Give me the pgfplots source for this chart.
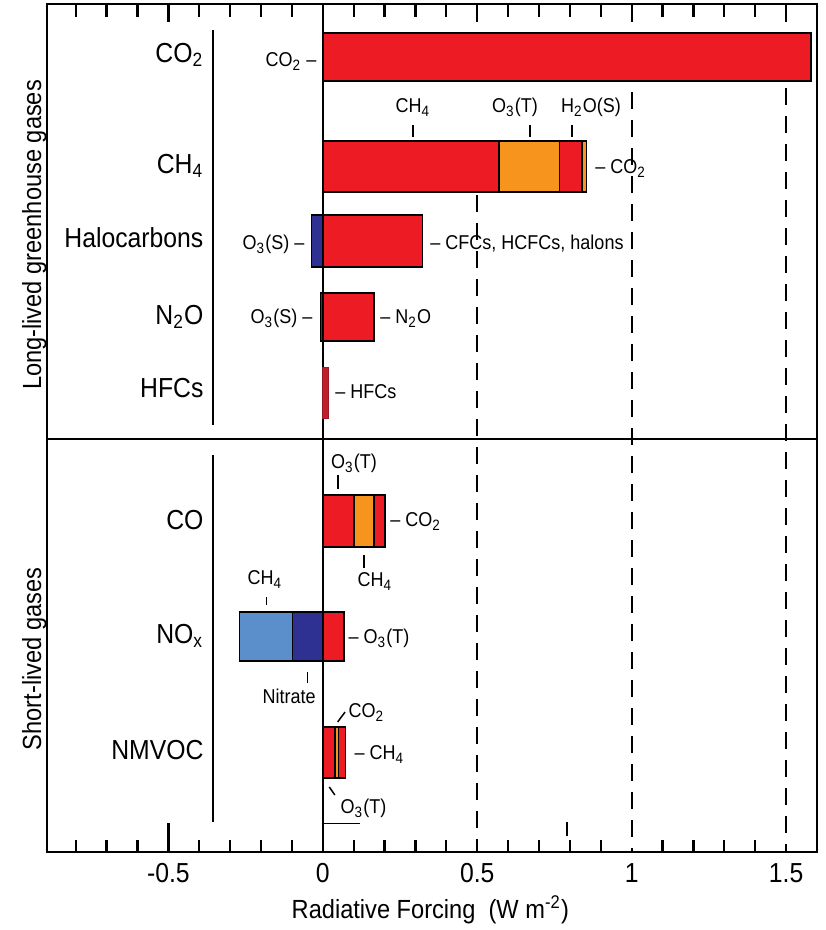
\documentclass[border=0pt]{standalone}
\usepackage{fontspec}
\setmainfont{Liberation Sans}[FakeStretch=0.9]
\usepackage{pgfplots}
\pgfplotsset{compat=1.18}
\definecolor{cred}{HTML}{ED1C24}
\definecolor{corange}{HTML}{F7941D}
\definecolor{cdblue}{HTML}{2E3192}
\definecolor{clblue}{HTML}{5B8FCB}
\definecolor{chfc}{HTML}{BE1E2D}
\newcommand{\an}{\fontsize{8}{10}\selectfont}
\newcommand{\cat}{\fontsize{11}{13}\selectfont}
\newcommand{\sub}[1]{\textsubscript{#1}}
\begin{document}
\begin{tikzpicture}
\pgfplotsset{
  seg/.style={draw=black, line width=0.6pt},
  thin/.style={black, line width=0.6pt},
  tk/.style={black, line width=0.9pt},
  dash/.style={black, line width=0.8pt, dash pattern=on 6.8pt off 4.4pt},
}
\begin{axis}[scale only axis, width=308pt, height=339.2pt,
  xmin=-0.893, xmax=1.6, ymin=0, ymax=848,
  axis line style={line width=0.8pt}, clip=false,
  xtick={-0.5,0,0.5,1,1.5}, xticklabels={-0.5,0,0.5,1,1.5},
  xtick pos=left, tick align=inside, ytick=\empty,
  major tick length=0pt,
  xticklabel style={font=\cat, anchor=mid, yshift=-9.6pt}]
% tick marks (top: minor 13, major 18; bottom: minor 12, major 29)
\pgfplotsinvokeforeach{-0.8,-0.7,-0.6,-0.4,-0.3,-0.2,-0.1,0.1,0.2,0.3,0.4,0.6,0.7,0.8,0.9,1.1,1.2,1.3,1.4}{
  \addplot[tk] coordinates {(#1,848) (#1,835)};
  \addplot[tk] coordinates {(#1,0) (#1,12)};
}
\pgfplotsinvokeforeach{-0.5,0.5,1,1.5}{
  \addplot[tk] coordinates {(#1,848) (#1,830)};
}
\addplot[tk] coordinates {(-0.5,0) (-0.5,29)};
% reference lines
\addplot[thin] coordinates {(0,0) (0,848)};
\addplot[thin] coordinates {(-0.893,413) (1.6,413)};
\addplot[thin] coordinates {(-0.356,427) (-0.356,822)};
\addplot[thin] coordinates {(-0.356,30) (-0.356,397)};
\addplot[dash] coordinates {(0.5,657) (0.5,0)};
\addplot[dash] coordinates {(1.0,760) (1.0,0)};
\addplot[dash] coordinates {(1.5,764) (1.5,0)};
\addplot[black, line width=0.4pt] coordinates {(0,29) (0.12,29)};
\addplot[black, line width=0.6pt] coordinates {(0.79,16) (0.79,30)};
% CO2
\addplot[seg, fill=cred] coordinates {(0,771) (1.58,771) (1.58,819) (0,819)} -- cycle;
% CH4
\addplot[seg, fill=cred] coordinates {(0,660) (0.570,660) (0.570,711) (0,711)} -- cycle;
\addplot[seg, fill=corange] coordinates {(0.570,660) (0.767,660) (0.767,711) (0.570,711)} -- cycle;
\addplot[seg, fill=cred] coordinates {(0.767,660) (0.839,660) (0.839,711) (0.767,711)} -- cycle;
\addplot[seg, fill=corange] coordinates {(0.839,660) (0.853,660) (0.853,711) (0.839,711)} -- cycle;
% Halocarbons
\addplot[seg, fill=cdblue] coordinates {(-0.036,585) (0,585) (0,637) (-0.036,637)} -- cycle;
\addplot[seg, fill=cred] coordinates {(0,585) (0.322,585) (0.322,637) (0,637)} -- cycle;
% N2O
\addplot[seg, fill=cdblue] coordinates {(-0.007,511) (0,511) (0,559) (-0.007,559)} -- cycle;
\addplot[seg, fill=cred] coordinates {(0,511) (0.166,511) (0.166,559) (0,559)} -- cycle;
% HFCs
\addplot[draw=chfc!80!black, line width=0.4pt, fill=chfc] coordinates {(0,434) (0.02,434) (0.02,485) (0,485)} -- cycle;
% CO
\addplot[seg, fill=cred] coordinates {(0,305) (0.101,305) (0.101,357) (0,357)} -- cycle;
\addplot[seg, fill=corange] coordinates {(0.101,305) (0.165,305) (0.165,357) (0.101,357)} -- cycle;
\addplot[seg, fill=cred] coordinates {(0.165,305) (0.201,305) (0.201,357) (0.165,357)} -- cycle;
% NOx
\addplot[seg, fill=clblue] coordinates {(-0.269,191) (-0.098,191) (-0.098,240) (-0.269,240)} -- cycle;
\addplot[seg, fill=cdblue] coordinates {(-0.098,191) (0,191) (0,240) (-0.098,240)} -- cycle;
\addplot[seg, fill=cred] coordinates {(0,191) (0.068,191) (0.068,240) (0,240)} -- cycle;
% NMVOC
\addplot[seg, fill=cred] coordinates {(0,74) (0.039,74) (0.039,125) (0,125)} -- cycle;
\addplot[seg, fill=corange] coordinates {(0.039,74) (0.051,74) (0.051,125) (0.039,125)} -- cycle;
\addplot[seg, fill=cred] coordinates {(0.051,74) (0.073,74) (0.073,125) (0.051,125)} -- cycle;
% category labels
\begin{scope}[every node/.style={anchor=mid east, inner sep=0pt, font=\cat}]
\node at (axis cs:-0.385,796) {CO\sub{2}};
\node at (axis cs:-0.385,685) {CH\sub{4}};
\node at (axis cs:-0.385,611) {Halocarbons};
\node at (axis cs:-0.385,534) {N\sub{2}O};
\node at (axis cs:-0.385,461) {HFCs};
\node at (axis cs:-0.385,329) {CO};
\node at (axis cs:-0.385,215) {NO\sub{x}};
\node at (axis cs:-0.385,99) {NMVOC};
\end{scope}
% group labels
\node[rotate=90, anchor=south, inner sep=0pt, font=\fontsize{10.5}{12}\selectfont, xshift=-4pt] at (axis cs:-0.893,627) {Long-lived greenhouse gases};
\node[rotate=90, anchor=south, inner sep=0pt, font=\fontsize{10.5}{12}\selectfont, xshift=-4pt] at (axis cs:-0.893,203) {Short-lived gases};
% annotations
\begin{scope}[every node/.style={inner sep=0pt, font=\an}]
\node[anchor=mid east] at (axis cs:-0.019,792) {CO\sub{2} --};
\node[anchor=mid] at (axis cs:0.292,746) {CH\sub{4}};
\node[anchor=mid] at (axis cs:0.622,746) {O\sub{3}(T)};
\node[anchor=mid] at (axis cs:0.868,746) {H\sub{2}O(S)};
\node[anchor=mid west] at (axis cs:0.881,685) {-- CO\sub{2}};
\node[anchor=mid east] at (axis cs:-0.058,609) {O\sub{3}(S) --};
\node[anchor=mid west] at (axis cs:0.347,609) {-- CFCs, HCFCs, halons};
\node[anchor=mid east] at (axis cs:-0.032,535) {O\sub{3}(S) --};
\node[anchor=mid west] at (axis cs:0.185,535) {-- N\sub{2}O};
\node[anchor=mid west] at (axis cs:0.039,460) {-- HFCs};
\node[anchor=mid] at (axis cs:0.101,390) {O\sub{3}(T)};
\node[anchor=mid] at (axis cs:0.169,272) {CH\sub{4}};
\node[anchor=mid west] at (axis cs:0.217,332) {-- CO\sub{2}};
\node[anchor=mid] at (axis cs:-0.187,274) {CH\sub{4}};
\node[anchor=mid] at (axis cs:-0.109,155) {Nitrate};
\node[anchor=mid west] at (axis cs:0.082,215) {-- O\sub{3}(T)};
\node[anchor=mid west] at (axis cs:0.082,141) {CO\sub{2}};
\node[anchor=mid west] at (axis cs:0.101,99) {-- CH\sub{4}};
\node[anchor=mid west] at (axis cs:0.056,45) {O\sub{3}(T)};
\end{scope}
\draw[black, line width=0.6pt] (axis cs:0.292,715) -- (axis cs:0.292,727);
\draw[black, line width=0.6pt] (axis cs:0.671,715) -- (axis cs:0.671,727);
\draw[black, line width=0.6pt] (axis cs:0.806,715) -- (axis cs:0.806,727);
\draw[black, line width=0.6pt] (axis cs:0.049,363) -- (axis cs:0.049,377);
\draw[black, line width=0.6pt] (axis cs:0.133,284) -- (axis cs:0.133,297);
\draw[black, line width=0.6pt] (axis cs:-0.182,247) -- (axis cs:-0.182,255);
\draw[black, line width=0.6pt] (axis cs:-0.049,169) -- (axis cs:-0.049,180);
\draw[black, line width=0.6pt] (axis cs:0.048,130) -- (axis cs:0.072,140);
\draw[black, line width=0.6pt] (axis cs:0.021,65) -- (axis cs:0.039,57);
% x label
\node[anchor=mid, inner sep=0pt, font=\fontsize{10.5}{12}\selectfont, yshift=-24pt] at (axis cs:0.348,0) {Radiative Forcing\ \ (W m\textsuperscript{-2})};
\coordinate (bl) at (axis cs:-0.893,0);
\coordinate (tr) at (axis cs:1.6,848);
\end{axis}
\pgfresetboundingbox
\path[use as bounding box] ([xshift=-18.8pt,yshift=-31.2pt]bl) rectangle ([xshift=3.2pt,yshift=1.6pt]tr);
\end{tikzpicture}
\end{document}
